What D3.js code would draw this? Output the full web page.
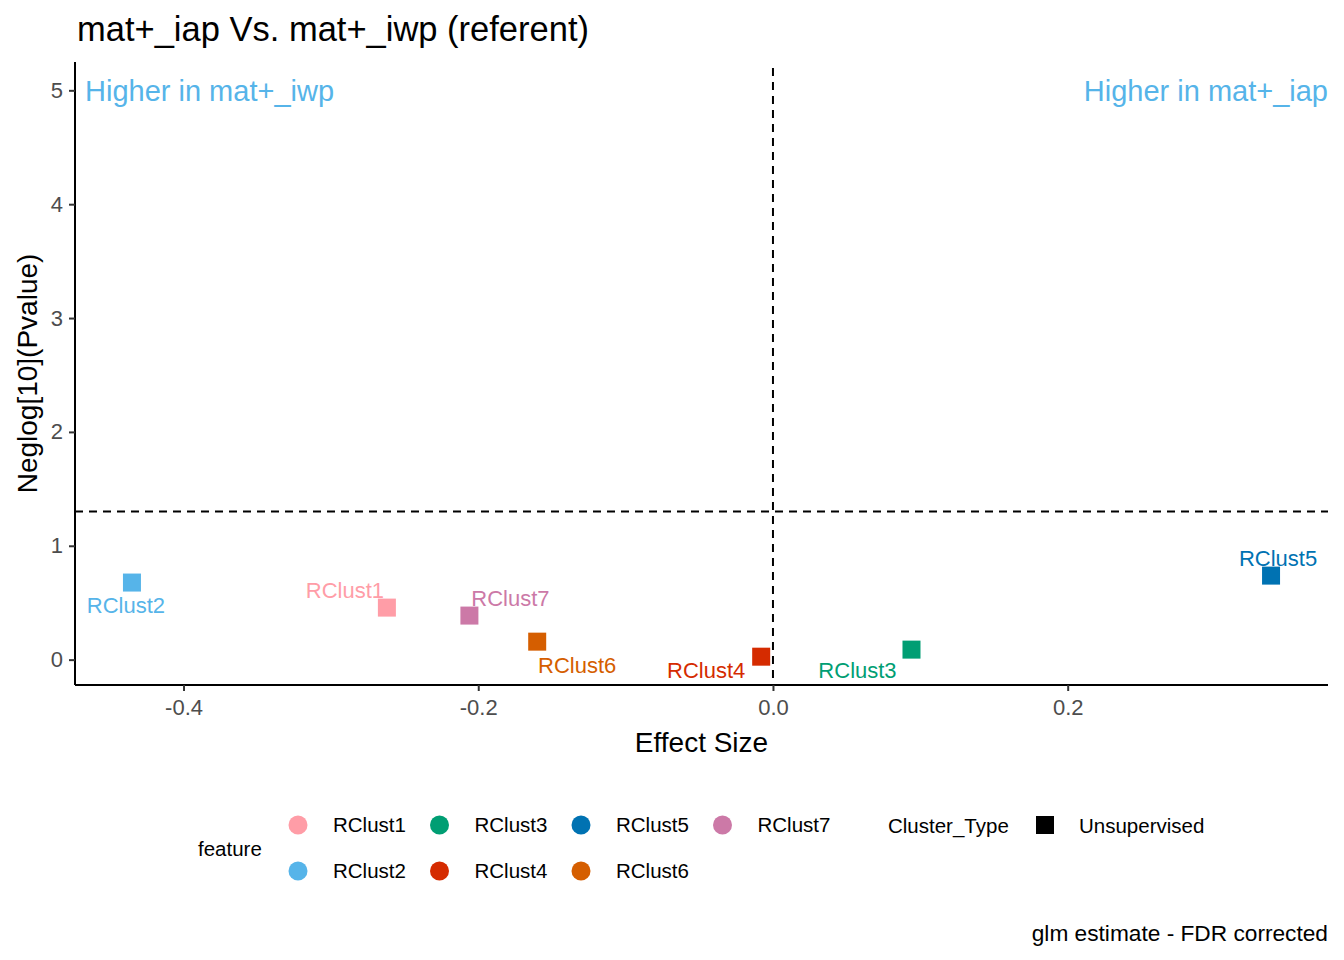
<!DOCTYPE html>
<html>
<head>
<meta charset="utf-8">
<script src="https://cdn.jsdelivr.net/npm/d3@7"></script>
<style>
  body { margin: 0; background: #fff; }
  text { font-family: "Liberation Sans", Arial, sans-serif; }
</style>
</head>
<body>
<div id="chart"></div>
<script>
// data
var features = ["RClust1", "RClust2", "RClust3", "RClust4", "RClust5", "RClust6", "RClust7"];
var effectSize = [-0.262, -0.435, 0.094, -0.008, 0.338, -0.160, -0.206];
var negLogP = [0.457, 0.677, 0.088, 0.026, 0.738, 0.158, 0.387];
var featureColours = ["#FF9DA7", "#56B4E9", "#009E73", "#D52B00", "#0072B2", "#D55E00", "#CC79A7"];
var xTicks = [-0.4, -0.2, 0.0, 0.2];
var yTicks = [0, 1, 2, 3, 4, 5];
var pThreshold = 0.05;

// label placement (like ggrepel), px from the point
var labelNudge = {
	RClust1: [-42, -10], RClust2: [-6, 30], RClust3: [-54, 28], RClust4: [-55, 21],
	RClust5: [7, -10], RClust6: [40, 31], RClust7: [41, -10]
};

var W = 1344, H = 960;
var margin = {top: 62, right: 16, bottom: 275, left: 75};
var width = W - margin.left - margin.right,
	height = H - margin.top - margin.bottom;

var svg = d3.select("#chart").append("svg")
	.attr("width", W).attr("height", H);

var points = features.map(function (f, i) {
	return {name: f, x: effectSize[i], y: negLogP[i], colour: featureColours[i]};
});

// ggplot style 5% expansion, y range includes the annotation row at 5
var xExt = d3.extent(effectSize);
var xPad = (xExt[1] - xExt[0]) * 0.05;
var yExt = [d3.min(negLogP), 5];
var yPad = (yExt[1] - yExt[0]) * 0.05;

var x = d3.scaleLinear().domain([xExt[0] - xPad, xExt[1] + xPad]).range([0, width]);
var y = d3.scaleLinear().domain([yExt[0] - yPad, yExt[1] + yPad]).range([height, 0]);

var g = svg.append("g").attr("transform", "translate(" + margin.left + "," + margin.top + ")");

// R prints a plain hyphen, not the unicode minus
var fmtX = function (v) { return d3.format(".1f")(v).replace("\u2212", "-"); };

// axes
var xAxis = g.append("g").attr("transform", "translate(0," + height + ")")
	.call(d3.axisBottom(x).tickValues(xTicks).tickFormat(fmtX).tickSize(6).tickPadding(8));
var yAxis = g.append("g")
	.call(d3.axisLeft(y).tickValues(yTicks).tickFormat(d3.format("d")).tickSize(6).tickPadding(6));

[xAxis, yAxis].forEach(function (a) {
	a.select(".domain").attr("stroke", "#000").attr("stroke-width", 2);
	a.selectAll(".tick line").attr("stroke", "#333").attr("stroke-width", 2);
	a.selectAll(".tick text").attr("fill", "#4D4D4D")
		.style("font-size", "22px").style("font-family", "Liberation Sans, Arial, sans-serif");
});
xAxis.select(".domain").attr("d", "M0,0H" + width);
yAxis.select(".domain").attr("d", "M0,0V" + height);

// reference lines
g.append("line")
	.attr("x1", 0).attr("x2", width)
	.attr("y1", y(-Math.log10(pThreshold))).attr("y2", y(-Math.log10(pThreshold)))
	.attr("stroke", "#000").attr("stroke-width", 2).attr("stroke-dasharray", "8,6");
g.append("line")
	.attr("x1", x(0)).attr("x2", x(0))
	.attr("y1", 6).attr("y2", height)
	.attr("stroke", "#000").attr("stroke-width", 2).attr("stroke-dasharray", "8,6");

// points
var sq = 18;
g.selectAll("rect.pt").data(points).enter().append("rect")
	.attr("class", "pt")
	.attr("x", function (d) { return x(d.x) - sq / 2; })
	.attr("y", function (d) { return y(d.y) - sq / 2; })
	.attr("width", sq).attr("height", sq)
	.attr("fill", function (d) { return d.colour; });

g.selectAll("text.lab").data(points).enter().append("text")
	.attr("class", "lab")
	.attr("x", function (d) { return x(d.x) + labelNudge[d.name][0]; })
	.attr("y", function (d) { return y(d.y) + labelNudge[d.name][1]; })
	.attr("text-anchor", "middle")
	.attr("fill", function (d) { return d.colour; })
	.style("font-size", "22px")
	.text(function (d) { return d.name; });

// direction annotations
g.append("text").attr("x", 10).attr("y", y(5)).attr("dy", "0.38em")
	.attr("fill", "#56B4E9").style("font-size", "29px").text("Higher in mat+_iwp");
g.append("text").attr("x", width).attr("y", y(5)).attr("dy", "0.38em")
	.attr("text-anchor", "end")
	.attr("fill", "#56B4E9").style("font-size", "29px").text("Higher in mat+_iap");

// titles
svg.append("text").attr("x", 77).attr("y", 41)
	.style("font-size", "34.5px").text("mat+_iap Vs. mat+_iwp (referent)");
svg.append("text").attr("x", margin.left + width / 2).attr("y", 752)
	.attr("text-anchor", "middle").style("font-size", "28px").text("Effect Size");
svg.append("text")
	.attr("transform", "translate(37," + (margin.top + height / 2) + ") rotate(-90)")
	.attr("text-anchor", "middle").style("font-size", "28px").text("Neglog[10](Pvalue)");
svg.append("text").attr("x", W - 16).attr("y", 941)
	.attr("text-anchor", "end").style("font-size", "22.7px").text("glm estimate - FDR corrected");

// legend: feature
var leg = svg.append("g");
leg.append("text").attr("x", 198).attr("y", 849).attr("dy", "0.36em")
	.style("font-size", "20.5px").text("feature");
var legItems = leg.selectAll("g.item").data(points).enter().append("g")
	.attr("class", "item")
	.attr("transform", function (d, i) {
		var col = Math.floor(i / 2), row = i % 2;
		return "translate(" + (298 + col * 141.5) + "," + (825 + row * 46) + ")";
	});
legItems.append("circle").attr("r", 9.5).attr("fill", function (d) { return d.colour; });
legItems.append("text").attr("x", 35).attr("dy", "0.36em")
	.style("font-size", "20.5px").text(function (d) { return d.name; });

// legend: Cluster_Type
leg.append("text").attr("x", 888).attr("y", 826).attr("dy", "0.36em")
	.style("font-size", "20.5px").text("Cluster_Type");
leg.append("rect").attr("x", 1036).attr("y", 816).attr("width", 18).attr("height", 18).attr("fill", "#000");
leg.append("text").attr("x", 1079).attr("y", 826).attr("dy", "0.36em")
	.style("font-size", "20.5px").text("Unsupervised");
</script>
</body>
</html>
